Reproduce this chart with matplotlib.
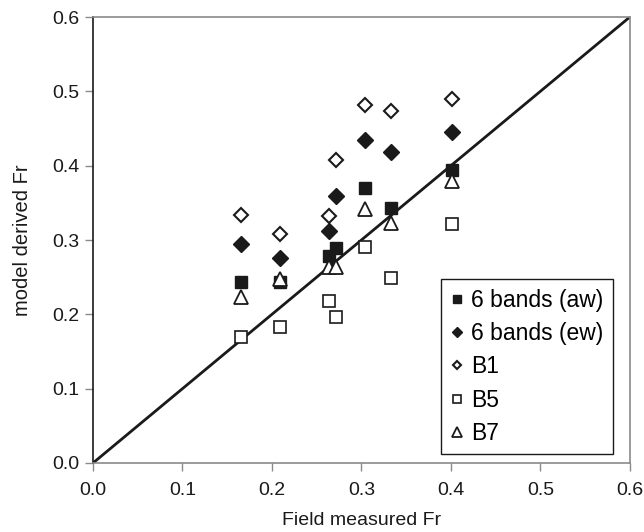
import matplotlib
matplotlib.use("Agg")
import matplotlib.pyplot as plt

plt.rcParams['font.family'] = ['Liberation Sans', 'DejaVu Sans']

# field measured Fr (x) and model derived Fr for each band combination
field_fr = [0.165, 0.209, 0.264, 0.272, 0.304, 0.333, 0.401]
aw6 = [0.243, 0.244, 0.279, 0.289, 0.370, 0.343, 0.394]
ew6 = [0.294, 0.276, 0.312, 0.359, 0.435, 0.419, 0.445]
b1 = [0.334, 0.308, 0.332, 0.408, 0.482, 0.474, 0.490]
b5 = [0.170, 0.183, 0.218, 0.197, 0.290, 0.249, 0.321]
b7 = [0.223, 0.248, 0.264, 0.264, 0.342, 0.323, 0.379]

ticks = [0.0, 0.1, 0.2, 0.3, 0.4, 0.5, 0.6]

fig = plt.figure(figsize=(6.44, 5.32), dpi=100)
ax = fig.add_axes([0.1444, 0.1297, 0.8336, 0.8383])

ink = '#1a1a1a'
grey = '#8a8a8a'

ax.plot([0, 0.6], [0, 0.6], color=ink, lw=2, zorder=1)

ax.plot(field_fr, aw6, ls='none', marker='s', ms=9, mfc=ink, mec=ink,
        label='6 bands (aw)', zorder=3)
ax.plot(field_fr, ew6, ls='none', marker='D', ms=8, mfc=ink, mec=ink,
        label='6 bands (ew)', zorder=3)
ax.plot(field_fr, b1, ls='none', marker='D', ms=7, mfc='white', mec=ink,
        mew=1.5, label='B1', zorder=3)
ax.plot(field_fr, b5, ls='none', marker='s', ms=9, mfc='white', mec=ink,
        mew=1.2, label='B5', zorder=3)
ax.plot(field_fr, b7, ls='none', marker='^', ms=10, mfc='white', mec=ink,
        mew=1.3, label='B7', zorder=3)

ax.set_xlim(0, 0.6)
ax.set_ylim(0, 0.6)
ax.set_xticks(ticks)
ax.set_yticks(ticks)
ax.set_xticklabels([f'{t:.1f}' for t in ticks])
ax.set_yticklabels([f'{t:.1f}' for t in ticks])
ax.tick_params(labelsize=14, length=6, width=1, color=grey, direction='out',
               labelcolor=ink)
ax.tick_params(axis='x', pad=8)
ax.tick_params(axis='y', pad=4)

ax.spines['left'].set_color(ink)
ax.spines['left'].set_linewidth(1.2)
for s in ['bottom', 'top', 'right']:
    ax.spines[s].set_color(grey)
    ax.spines[s].set_linewidth(1.2)

ax.set_xlabel('Field measured Fr', fontsize=14, color=ink, labelpad=9)
ax.set_ylabel('model derived Fr', fontsize=14.5, color=ink, labelpad=14)

leg = ax.legend(loc='lower right', bbox_to_anchor=(0.968, 0.02),
                borderaxespad=0, fontsize=16.5, markerscale=0.65,
                handlelength=0.55, handletextpad=0.35, labelspacing=0.45,
                borderpad=0.4, fancybox=False, framealpha=1,
                edgecolor=ink)
leg.get_frame().set_linewidth(1.0)

fig.savefig('out.png', dpi=100)
